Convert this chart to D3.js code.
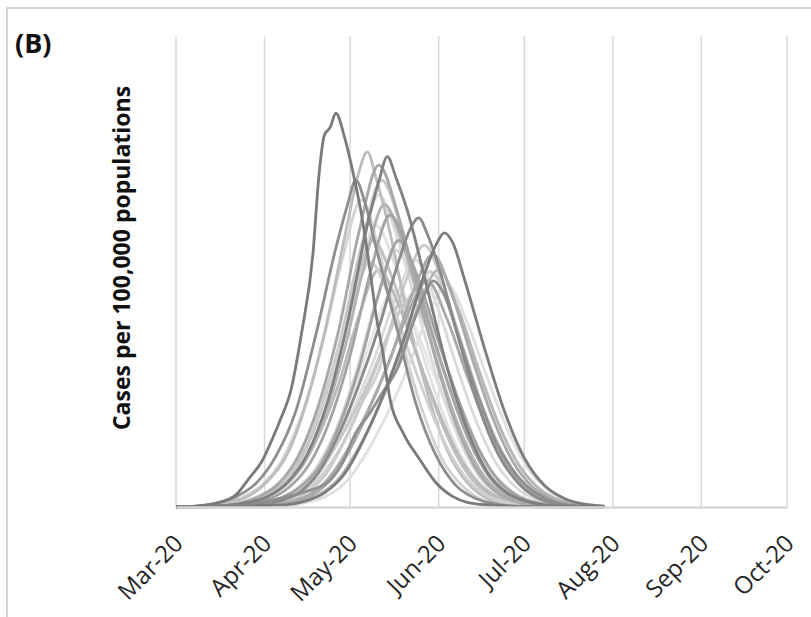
<!DOCTYPE html>
<html>
<head>
<meta charset="utf-8">
<script src="https://cdn.jsdelivr.net/npm/d3@7/dist/d3.min.js"></script>
<style>
  html, body { margin: 0; padding: 0; background: #fff; }
  svg { display: block; }
</style>
</head>
<body>
<svg id="chart" width="811" height="617"></svg>
<script>
// ---------- DATA ----------
const panelLabel = "(B)";
const yTitle = "Cases per 100,000 populations";
const startDate = "2020-03-01";
const endDate = "2020-10-01";
const monthTicks = ["Mar-20","Apr-20","May-20","Jun-20","Jul-20","Aug-20","Sep-20","Oct-20"];

// each series: [days since 1 Mar 2020, cases per 100,000]
const s01 = [[0,0],[7,0.1],[14,0.4],[21,1.3],[26,3.2],[30,4.8],[34,7.4],[37,9.6],[40,12.1],[44,18.5],[48,27],[50,35],[52,39.5],[54,40.3],[56,41.8],[59,39.3],[62,35.5],[65,31],[68,25],[70,20.5],[72.5,16.3],[75,11.4],[79.5,7.9],[85.5,5],[91,2.6],[97,1.1],[102,0.5],[110,0.2],[120,0.05],[130,0],[150,0]];
const s02 = [[0,0],[7,0.1],[14,0.4],[21,1.1],[28,2.5],[35,5.4],[42,10.2],[49,18.3],[56,27.5],[60,32],[63,34.7],[66,32.5],[70,27.6],[77,19.4],[84,11],[91,5.5],[98,2.3],[105,0.9],[112,0.3],[119,0.1],[150,0]];
const s03 = [[0,0],[11,0.15],[18,0.5],[25,1.1],[32,2.7],[39,5.6],[46,11.4],[53,19.8],[60,30],[64,35.5],[67,37.7],[70,35],[74,30.4],[81,20.5],[88,12.2],[95,6],[102,2.6],[109,0.9],[116,0.3],[123,0.1],[150,0]];
const s04 = [[0,0],[9,0.1],[16,0.4],[23,1],[30,2.3],[37,4.9],[44,9.8],[51,17],[58,26],[65,32.6],[72,26.2],[79,17.8],[86,10.5],[93,5.2],[100,2.3],[107,0.8],[114,0.3],[121,0.1],[150,0]];
const s05 = [[0,0],[18,0.2],[25,0.5],[32,1.1],[39,2.6],[46,5.6],[53,11.1],[60,19.4],[67,29.9],[71,34.5],[74,37.2],[77,35],[81,31.5],[88,23.2],[95,14.8],[102,8.2],[109,3.7],[116,1.5],[123,0.6],[130,0.2],[150,0]];
const s06 = [[0,0],[15,0.1],[22,0.4],[29,1.1],[36,2.5],[43,5.5],[50,10.9],[57,18.8],[64,29.1],[71,36.3],[78,30.8],[85,22.6],[92,14.5],[99,8],[106,3.6],[113,1.4],[120,0.5],[127,0.2],[150,0]];
const s07 = [[0,0],[16,0.1],[23,0.4],[30,1],[37,2.4],[44,5.2],[51,10.4],[58,18],[65,27.8],[72,34.7],[79,29.5],[86,21.5],[93,13.9],[100,7.6],[107,3.5],[114,1.4],[121,0.5],[128,0.2],[150,0]];
const s08 = [[0,0],[15,0.1],[22,0.4],[29,1],[36,2.3],[43,5],[50,9.9],[57,17.2],[64,26.5],[71,33.1],[78,28.1],[85,20.5],[92,13.2],[99,7.3],[106,3.3],[113,1.3],[120,0.5],[127,0.2],[150,0]];
const s09 = [[0,0],[17,0.1],[24,0.4],[31,1],[38,2.2],[45,4.8],[52,9.6],[59,16.7],[66,25.7],[73,32.1],[80,27.3],[87,19.9],[94,12.8],[101,7.1],[108,3.2],[115,1.3],[122,0.5],[129,0.2],[150,0]];
const s10 = [[0,0],[14,0.1],[21,0.4],[28,0.9],[35,2.1],[42,4.5],[49,9],[56,15.5],[63,23.9],[70,29.9],[77,25.4],[84,18.5],[91,12],[98,6.6],[105,3],[112,1.2],[119,0.4],[126,0.15],[150,0]];
const s11 = [[0,0],[19,0.1],[26,0.4],[33,0.9],[40,2.2],[47,4.7],[54,9.3],[61,16.1],[68,24.8],[75,31],[82,26.4],[89,19.2],[96,12.4],[103,6.8],[110,3.1],[117,1.2],[124,0.5],[131,0.2],[150,0]];
const s12 = [[0,0],[13,0.1],[20,0.3],[27,0.85],[34,2],[41,4.2],[48,8.5],[55,14.7],[62,22.6],[69,28.3],[76,24.1],[83,17.5],[90,11.3],[97,6.2],[104,2.8],[111,1.1],[118,0.4],[125,0.14],[150,0]];
const s13 = [[0,0],[21,0.1],[28,0.3],[35,0.8],[42,1.9],[49,4.1],[56,8.2],[63,14.2],[70,21.8],[77,27.3],[84,23.2],[91,16.9],[98,10.9],[105,6],[112,2.7],[119,1.1],[126,0.4],[133,0.14],[150,0]];
const s14 = [[0,0],[15,0.1],[22,0.3],[29,0.8],[36,1.8],[43,3.8],[50,7.6],[57,13.1],[64,20.2],[71,25.2],[78,21.4],[85,15.6],[92,10.1],[99,5.5],[106,2.5],[113,1],[120,0.4],[127,0.13],[150,0]];
const s15 = [[0,0],[22,0.1],[29,0.3],[36,0.85],[43,2],[50,4.2],[57,8.5],[64,14.7],[71,22.6],[78,28.3],[85,24.1],[92,17.5],[99,11.3],[106,6.2],[113,2.8],[120,1.1],[127,0.4],[134,0.14],[150,0]];
const s16 = [[0,0],[20,0.1],[27,0.3],[34,0.7],[41,1.6],[48,3.4],[55,6.9],[62,12],[69,18.4],[76,23],[83,19.6],[90,14.3],[97,9.2],[104,5.1],[111,2.3],[118,0.9],[125,0.35],[132,0.12],[150,0]];
const s17 = [[0,0],[12,0.1],[19,0.3],[26,0.8],[33,1.8],[40,3.9],[47,7.8],[54,13.5],[61,20.8],[68,26],[75,22.1],[82,16.1],[89,10.4],[96,5.7],[103,2.6],[110,1],[117,0.4],[124,0.13],[150,0]];
const s18 = [[0,0],[29,0.25],[36,0.6],[43,1.5],[50,3.7],[57,7.7],[64,12.9],[71,19],[78,26.1],[82,29.5],[85,30.7],[88,29],[92,25.5],[99,17.8],[106,10.7],[113,5.5],[120,2.5],[127,0.9],[134,0.3],[141,0.1],[150,0]];
const s19 = [[0,0],[38,0.23],[45,0.6],[52,1.5],[59,3.5],[66,7.3],[73,12.2],[80,18],[87,24.7],[91,27.8],[94,29.1],[97,28],[101,24.2],[108,16.9],[115,10.2],[122,5.2],[129,2.3],[136,0.9],[143,0.3],[150,0.1]];
const s20 = [[0,0],[31,0.2],[38,0.6],[45,1.4],[52,3.3],[59,7],[66,11.7],[73,17.2],[80,23.6],[87,27.8],[94,23.1],[101,16.1],[108,9.7],[115,5],[122,2.2],[129,0.8],[136,0.3],[143,0.08],[150,0]];
const s21 = [[0,0],[34,0.2],[41,0.5],[48,1.3],[55,3.2],[62,6.7],[69,11.3],[76,16.6],[83,22.8],[90,26.8],[97,22.2],[104,15.5],[111,9.4],[118,4.8],[125,2.1],[132,0.8],[139,0.27],[146,0.08],[150,0]];
const s22 = [[0,0],[28,0.2],[35,0.5],[42,1.3],[49,3.1],[56,6.5],[63,11],[70,16.2],[77,22.3],[84,26.2],[91,21.7],[98,15.2],[105,9.2],[112,4.7],[119,2.1],[126,0.8],[133,0.26],[140,0.08],[150,0]];
const s23 = [[0,0],[39,0.2],[46,0.5],[53,1.2],[60,2.8],[67,5.9],[74,9.9],[81,14.6],[88,20.1],[95,23.6],[102,19.6],[109,13.7],[116,8.3],[123,4.2],[130,1.9],[137,0.7],[144,0.24],[150,0.07]];
const s24 = [[0,0],[36,0.2],[43,0.5],[50,1.3],[57,3],[64,6.3],[71,10.6],[78,15.6],[85,21.4],[92,25.2],[99,20.9],[106,14.6],[113,8.8],[120,4.5],[127,2],[134,0.76],[141,0.25],[148,0.08],[150,0]];
const s25 = [[0,0],[26,0.2],[33,0.4],[40,1.1],[47,2.6],[54,5.5],[61,9.2],[68,13.6],[75,18.7],[82,22],[89,18.3],[96,12.8],[103,7.7],[110,4],[117,1.8],[124,0.66],[131,0.22],[138,0.07],[150,0]];
const s26 = [[0,0],[21,0.2],[35,0.8],[45,1.6],[53,2.6],[58,4.5],[63,7.9],[68,10],[72,12],[78,15],[83,19.5],[87,22.5],[90,24],[94,22.5],[98,19],[105,12.5],[112,7],[119,3.5],[126,1.5],[133,0.5],[140,0.1],[150,0]];
const s27 = [[0,0],[28,0.2],[40,1],[50,3],[58,6.5],[65,11],[71.5,14.9],[75,18.8],[80,21.5],[85.5,23.8],[89,25],[93,23.5],[100,17.5],[107,11],[114,6],[121,2.8],[128,1.1],[135,0.4],[150,0]];
const s28 = [[0,0],[32,0.2],[39,0.5],[46,1.2],[53,2.9],[60,6],[67,10.1],[74,14.9],[81,20.4],[88,24],[95,19.9],[102,13.9],[109,8.4],[116,4.3],[123,1.9],[130,0.7],[137,0.24],[144,0.07],[150,0]];

const seriesList = [s10, s16, s04, s22, s13, s08, s27, s20, s12, s03, s23, s14, s07, s25, s17, s09, s28, s24, s15, s06, s21, s11, s26, s18, s02, s19, s05, s01];
const seriesShade = ["#e2e2e2","#e6e6e6","#d3d3d3","#dadada","#d6d6d6","#dadada","#d0d0d0","#cacaca","#c0c0c0","#bcbcbc","#e0e0e0","#bababa","#c6c6c6","#c8c8c8","#cfcfcf","#b2b2b2","#a9a9a9","#b6b6b6","#a2a2a2","#a8a8a8","#aaaaaa","#a4a4a4","#8f8f8f","#8a8a8a","#8e8e8e","#7c7c7c","#808080","#7a7a7a"];

// ---------- LAYOUT ----------
const svg = d3.select("#chart");
const plot = { left: 176, right: 787, top: 36, bottom: 507 };
const FONT = "'Open Sans', 'Noto Sans', sans-serif";

const base = d3.timeParse("%Y-%m-%d")(startDate);
const x = d3.scaleTime()
  .domain([base, d3.timeParse("%Y-%m-%d")(endDate)])
  .range([plot.left, plot.right]);
const y = d3.scaleLinear().domain([0, 50]).range([plot.bottom, plot.top]);

// outer frame
svg.append("rect")
  .attr("x", 7).attr("y", 8).attr("width", 830).attr("height", 640)
  .attr("fill", "#fff").attr("stroke", "#d4d4d4").attr("stroke-width", 2);

// vertical gridlines
const tickDates = d3.timeMonth.range(base, d3.timeDay.offset(x.domain()[1], 1));
svg.append("g").selectAll("line").data(tickDates).join("line")
  .attr("x1", d => x(d)).attr("x2", d => x(d))
  .attr("y1", plot.top).attr("y2", plot.bottom)
  .attr("stroke", "#d9d9d9").attr("stroke-width", 1.5);

// series lines
const line = d3.line()
  .x(d => x(d3.timeDay.offset(base, Math.floor(d[0])).getTime() + (d[0] % 1) * 864e5))
  .y(d => y(d[1]))
  .curve(d3.curveMonotoneX);

svg.append("g").selectAll("path").data(seriesList).join("path")
  .attr("d", d => line(d))
  .attr("fill", "none")
  .attr("stroke", (d, i) => seriesShade[i])
  .attr("stroke-width", 2.8)
  .attr("stroke-linejoin", "round");

// x axis
const xAxis = d3.axisBottom(x)
  .tickValues(tickDates)
  .tickSize(0)
  .tickFormat((d, i) => monthTicks[i]);
const gx = svg.append("g").attr("transform", `translate(0,${plot.bottom})`).call(xAxis);
gx.select(".domain").attr("stroke", "#d9d9d9").attr("stroke-width", 2.5);
gx.selectAll("text")
  .attr("font-family", FONT)
  .attr("font-size", 24)
  .attr("fill", "#262626")
  .attr("text-anchor", "end")
  .attr("dy", 0)
  .attr("y", 0)
  .attr("transform", "translate(8,38) rotate(-45)");

// panel label
svg.append("text")
  .attr("x", 15).attr("y", 53)
  .attr("font-family", FONT)
  .attr("font-weight", "bold")
  .attr("font-size", 27)
  .attr("fill", "#111")
  .text(panelLabel);

// y title
svg.append("text")
  .attr("transform", `translate(130,258) rotate(-90)`)
  .attr("text-anchor", "middle")
  .attr("font-family", FONT)
  .attr("font-weight", "bold")
  .attr("font-size", 23)
  .attr("fill", "#111")
  .text(yTitle);
</script>
</body>
</html>
